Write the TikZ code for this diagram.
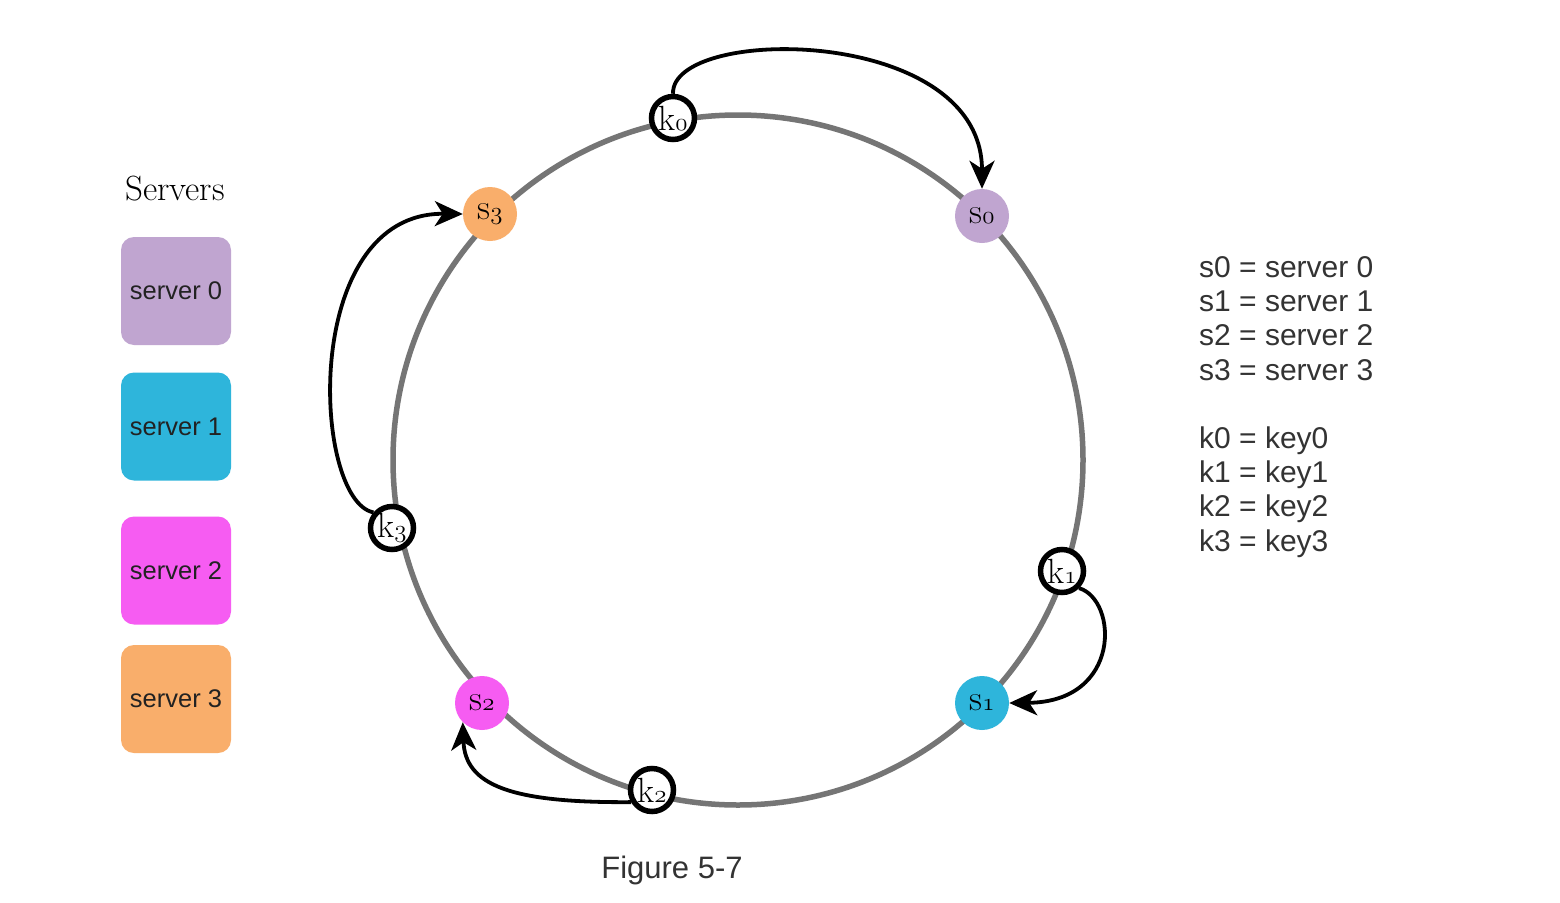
\documentclass[tikz,border=0pt]{standalone}
\usepackage{fontspec}
\newfontfamily\arial{Liberation Sans}
\usetikzlibrary{arrows.meta}
\newcommand\osnum[1]{{\usefont{OML}{lmm}{m}{it}#1}}
\definecolor{cpurple}{HTML}{C0A5D0}
\definecolor{ccyan}{HTML}{2EB5DB}
\definecolor{cmagenta}{HTML}{F65CF2}
\definecolor{corange}{HTML}{F9AE6B}
\definecolor{ringgray}{HTML}{757575}
\definecolor{legtext}{HTML}{222222}
\definecolor{keytext}{HTML}{333333}
\begin{document}
\begin{tikzpicture}[x=1pt,y=-1pt,
  ring/.style={draw=ringgray,line width=5.5pt},
  sdot/.style={circle,minimum size=54pt,inner sep=0pt,font=\fontsize{36}{36}\selectfont},
  kdot/.style={circle,draw=black,fill=white,line width=5.5pt,minimum size=43pt,inner sep=0pt},
  klabel/.style={font=\fontsize{35}{35}\selectfont,inner sep=0pt},
  link/.style={draw=black,line width=3.8pt,-{Stealth[length=28pt,width=25pt,inset=8pt]}},
  legbox/.style={rounded corners=13pt,minimum width=110pt,minimum height=108pt,inner sep=0pt,font=\arial\fontsize{25.5}{25.5}\selectfont,text=legtext},
  keyline/.style={anchor=base west,inner sep=0pt,font=\arial\fontsize{30}{30}\selectfont,text=keytext}
]
\useasboundingbox[fill=white] (0,0) rectangle (1560,902);

% legend
\node[font=\fontsize{35}{35}\selectfont] (legtitle) at (175,189) {Servers};
\node[legbox,fill=cpurple] (b0) at (176,291) {server 0};
\node[legbox,fill=ccyan] (b1) at (176,426.5) {server 1};
\node[legbox,fill=cmagenta] (b2) at (176,570.5) {server 2};
\node[legbox,fill=corange] (b3) at (176,699) {server 3};

% ring
\coordinate (c) at (738,460);
\draw[ring] (c) circle[radius=345];

% servers on ring
\node[sdot,fill=cpurple] (s0) at (982,216) {s\osnum{0}};
\node[sdot,fill=ccyan] (s1) at (982,703) {s\osnum{1}};
\node[sdot,fill=cmagenta] (s2) at (482,703) {s\osnum{2}};
\node[sdot,fill=corange] (s3) at (490,214) {s\osnum{3}};

% keys on ring
\node[kdot] (k0) at (673,118) {};
\node[klabel] (k0t) at (k0) {k\osnum{0}};
\node[kdot] (k1) at (1062,571) {};
\node[klabel] (k1t) at (k1) {k\osnum{1}};
\node[kdot] (k2) at (652,790) {};
\node[klabel] (k2t) at (k2) {k\osnum{2}};
\node[kdot] (k3) at (392,528) {};
\node[klabel] (k3t) at (k3) {k\osnum{3}};

% arrows
\draw[link] (k0.north) .. controls (671,25) and (982,25) .. (s0.north);
\draw[link] (k1.-45) .. controls (1118,600) and (1122,702) .. (s1.east);
\draw[link] (k2.-150) .. controls (510,803) and (465,785) .. (s2.-135);
\draw[link] (k3.140) .. controls (312,500) and (300,212) .. (s3.west);

% key text
\node[keyline] (d0) at (1199,277.5) {s0 = server 0};
\node[keyline] (d1) at (1199,311.7) {s1 = server 1};
\node[keyline] (d2) at (1199,345.9) {s2 = server 2};
\node[keyline] (d3) at (1199,380.1) {s3 = server 3};
\node[keyline] (d4) at (1199,448.5) {k0 = key0};
\node[keyline] (d5) at (1199,482.7) {k1 = key1};
\node[keyline] (d6) at (1199,516.9) {k2 = key2};
\node[keyline] (d7) at (1199,551.1) {k3 = key3};

% caption
\node[font=\arial\fontsize{31}{31}\selectfont,text=keytext] (cap) at (672,870) {Figure 5-7};
\end{tikzpicture}
\end{document}
